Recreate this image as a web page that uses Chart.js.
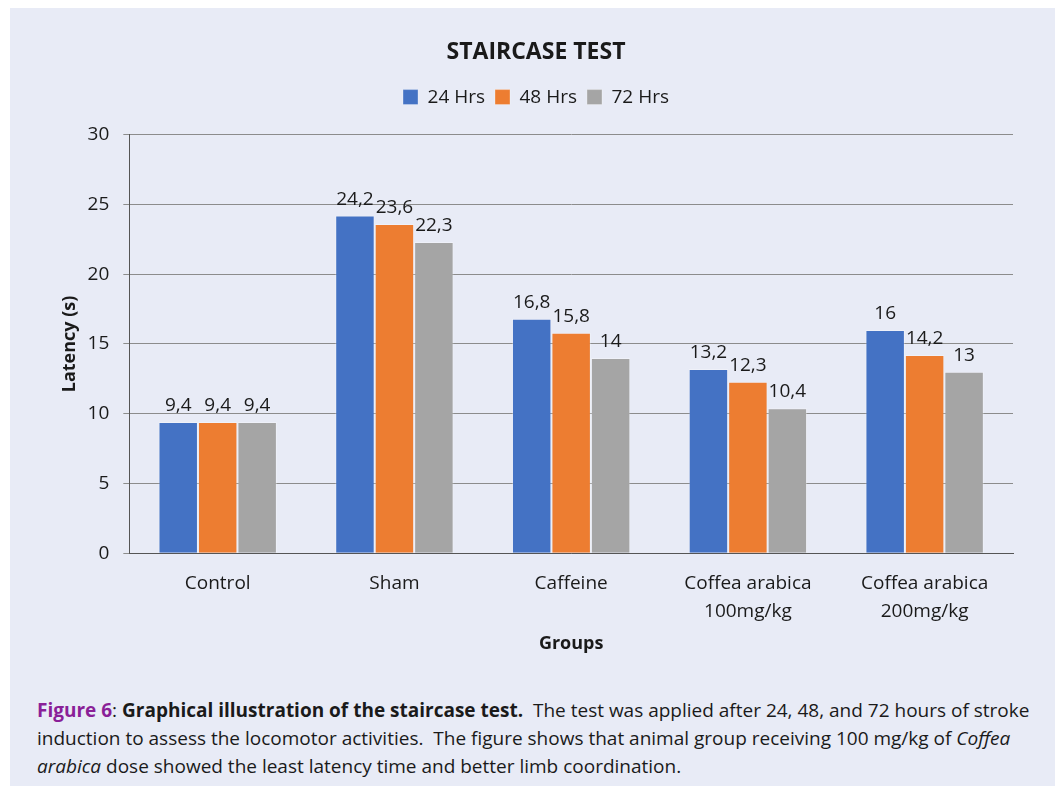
<!DOCTYPE html>
<html>
<head>
<meta charset="utf-8">
<script src="https://cdn.jsdelivr.net/npm/chart.js@4"></script>
<style>
  body { margin: 0; background: #ffffff; }
  #panel {
    position: absolute; left: 10px; top: 8px; width: 1045px; height: 778px;
    background: #e8ebf6;
  }
  #wrap { position: absolute; left: 0; top: 0; width: 1045px; height: 647px; }
  #caption {
    position: absolute; left: 27px; top: 688px; width: 1015px;
    font-family: "Open Sans", sans-serif; font-size: 19px; line-height: 28px;
    color: #1a1a1a; white-space: nowrap; letter-spacing: 0;
  }
  #caption .fig { color: #8a1f98; font-weight: bold; }
  #caption b { font-weight: bold; }
</style>
</head>
<body>
<div id="panel">
  <div id="wrap"><canvas id="staircase"></canvas></div>
  <div id="caption">
    <span class="fig">Figure 6</span>: <b>Graphical illustration of the staircase test.</b>&nbsp; The test was applied after 24, 48, and 72 hours of stroke<br>
    induction to assess the locomotor activities.&nbsp; The figure shows that animal group receiving 100 mg/kg of <i>Coffea</i><br>
    <i>arabica</i> dose showed the least latency time and better limb coordination.
  </div>
</div>
<script>
var groups = [['Control'], ['Sham'], ['Caffeine'], ['Coffea arabica', '100mg/kg'], ['Coffea arabica', '200mg/kg']]
var hrs24 = [9.4, 24.2, 16.8, 13.2, 16]
var hrs48 = [9.4, 23.6, 15.8, 12.3, 14.2]
var hrs72 = [9.4, 22.3, 14, 10.4, 13]
var seriesNames = ['24 Hrs', '48 Hrs', '72 Hrs']
var seriesColors = ['#4472c4', '#ed7d31', '#a5a5a5']

var fontFamily = '"Open Sans", sans-serif'

// value labels above each bar, with decimal comma
var barLabels = {
  id: 'barLabels',
  afterDatasetsDraw: function (chart) {
    var ctx = chart.ctx
    ctx.save()
    ctx.font = '19px ' + fontFamily
    ctx.fillStyle = '#1a1a1a'
    ctx.textAlign = 'center'
    ctx.textBaseline = 'alphabetic'
    chart.data.datasets.forEach(function (ds, i) {
      var meta = chart.getDatasetMeta(i)
      meta.data.forEach(function (bar, j) {
        var text = String(ds.data[j]).replace('.', ',')
        ctx.fillText(text, bar.x, bar.y - 11)
      })
    })
    ctx.restore()
  }
}

// a bit more room under the legend
var legendGap = {
  id: 'legendGap',
  beforeInit: function (chart) {
    var fit = chart.legend.fit
    chart.legend.fit = function () {
      fit.bind(chart.legend)()
      this.height += 18
    }
  }
}

var datasets = [hrs24, hrs48, hrs72].map(function (values, i) {
  return {
    label: seriesNames[i],
    data: values,
    backgroundColor: seriesColors[i],
    borderColor: 'rgba(255,255,255,0.3)',
    borderWidth: 1,
    categoryPercentage: 0.67,
    barPercentage: 1.0
  }
})

new Chart(document.getElementById('staircase'), {
  type: 'bar',
  data: { labels: groups, datasets: datasets },
  options: {
    responsive: true,
    maintainAspectRatio: false,
    animation: false,
    layout: { padding: { left: 49, right: 42, top: 29, bottom: 0 } },
    plugins: {
      title: {
        display: true,
        text: 'STAIRCASE TEST',
        color: '#1a1a1a',
        font: { family: fontFamily, size: 23, weight: 'bold' },
        padding: { top: 2, bottom: 11 }
      },
      legend: {
        position: 'top',
        labels: {
          color: '#1a1a1a',
          font: { family: fontFamily, size: 19 },
          boxWidth: 15,
          boxHeight: 15,
          padding: 10
        }
      },
      tooltip: { enabled: false }
    },
    scales: {
      x: {
        grid: { display: false },
        border: { display: true, color: '#555555', width: 1 },
        ticks: {
          color: '#1a1a1a',
          font: { family: fontFamily, size: 19, lineHeight: 1.45 },
          maxRotation: 0,
          padding: 9
        },
        title: {
          display: true,
          text: 'Groups',
          color: '#1a1a1a',
          font: { family: fontFamily, size: 18, weight: 'bold' },
          padding: { top: -1, bottom: 0 }
        }
      },
      y: {
        min: 0,
        max: 30,
        ticks: {
          stepSize: 5,
          color: '#1a1a1a',
          font: { family: fontFamily, size: 19 },
          padding: 14
        },
        grid: { color: '#8c8c8c', tickLength: 6, drawTicks: true },
        border: { display: true, color: '#555555', width: 1 },
        title: {
          display: true,
          text: 'Latency (s)',
          color: '#1a1a1a',
          font: { family: fontFamily, size: 18, weight: 'bold' },
          padding: { top: 0, bottom: -7 }
        }
      }
    }
  },
  plugins: [barLabels, legendGap]
})
</script>
</body>
</html>
